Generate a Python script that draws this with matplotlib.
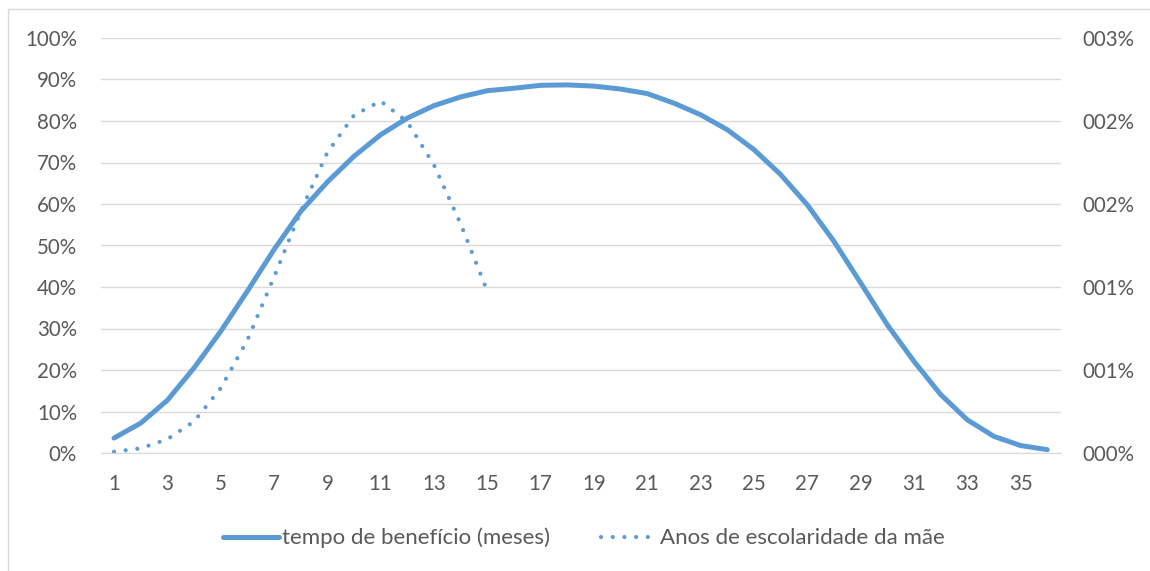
import math
import matplotlib
matplotlib.use("Agg")
import matplotlib.pyplot as plt
from matplotlib.ticker import FuncFormatter, FixedLocator
from matplotlib.patches import Rectangle

plt.rcParams['font.family'] = ['Lato', 'DejaVu Sans']

# data
meses = list(range(1, 37))
tempo_beneficio = [3.6, 7.2, 12.7, 20.5, 29.3, 39.0, 49.0, 58.2, 65.3, 71.5,
                   76.7, 80.7, 83.7, 85.8, 87.3, 87.9, 88.6, 88.7, 88.4, 87.7,
                   86.6, 84.3, 81.5, 77.9, 73.1, 67.1, 59.8, 51.0, 41.0, 30.9,
                   22.1, 14.1, 8.0, 4.0, 1.8, 0.8]          # % (eixo esquerdo)
anos_escol_x = list(range(1, 16))
anos_escol = [0.00008, 0.00028, 0.00083, 0.0019, 0.0039, 0.0068, 0.0106,
              0.01455, 0.0181, 0.02035, 0.0212, 0.01995, 0.01735, 0.0138,
              0.00975]                                   # fração (eixo direito)
left_ticks = [0, 10, 20, 30, 40, 50, 60, 70, 80, 90, 100]
right_ticks = [0, 0.005, 0.010, 0.015, 0.020, 0.025]
x_labels = list(range(1, 37, 2))

BLUE = "#5B9BD5"
TXT = "#595959"
GRID = "#D9D9D9"
FS = 14.8

fig = plt.figure(figsize=(11.5, 5.71), dpi=100)
ax = fig.add_axes([100.7 / 1150, 1 - 453 / 571, (1060.6 - 100.7) / 1150,
                   (453 - 38) / 571])
ax2 = ax.twinx()

ax.plot(meses, tempo_beneficio, color=BLUE, lw=3.6,
        solid_capstyle="round", solid_joinstyle="round",
        label="tempo de benefício (meses)")
ax2.plot(anos_escol_x, anos_escol, color=BLUE, lw=3.0,
         linestyle=(0, (0.01, 2.8)), dash_capstyle="round",
         label="Anos de escolaridade da mãe")

ax.set_xlim(0.5, 36.5)
ax.set_ylim(0, 100)
ax2.set_ylim(0, 0.025)

ax.yaxis.set_major_locator(FixedLocator(left_ticks))
ax.yaxis.set_major_formatter(FuncFormatter(lambda v, p: f"{v:.0f}%"))
ax2.yaxis.set_major_locator(FixedLocator(right_ticks))
ax2.yaxis.set_major_formatter(
    FuncFormatter(lambda v, p: f"{math.floor(v * 100 + 0.5 + 1e-9):03d}%"))
ax.set_xticks(x_labels)

ax.grid(axis="y", color=GRID, lw=1.0)
ax.set_axisbelow(True)
for a in (ax, ax2):
    for s in a.spines.values():
        s.set_visible(False)
ax.spines["bottom"].set_visible(True)
ax.spines["bottom"].set_color(GRID)
ax.tick_params(axis="both", length=0, labelsize=FS, colors=TXT)
ax.tick_params(axis="y", pad=17)
ax.tick_params(axis="x", pad=15)
ax2.tick_params(axis="y", length=0, labelsize=FS, colors=TXT, pad=16)

# legend
h1, l1 = ax.get_legend_handles_labels()
h2, l2 = ax2.get_legend_handles_labels()
fig.legend(h1 + h2, l1 + l2, loc="center", bbox_to_anchor=(584 / 1150, 1 - 538 / 571),
           ncol=2, frameon=False, fontsize=16, labelcolor=TXT,
           handlelength=2.5, handletextpad=0.15, columnspacing=2.3)

# chart border
fig.patches.append(Rectangle((8 / 1150, -0.01), 1.1, 1 - 9 / 571 + 0.01,
                             transform=fig.transFigure, fill=False,
                             edgecolor=GRID, lw=1.0))

fig.savefig("out.png", dpi=100)
